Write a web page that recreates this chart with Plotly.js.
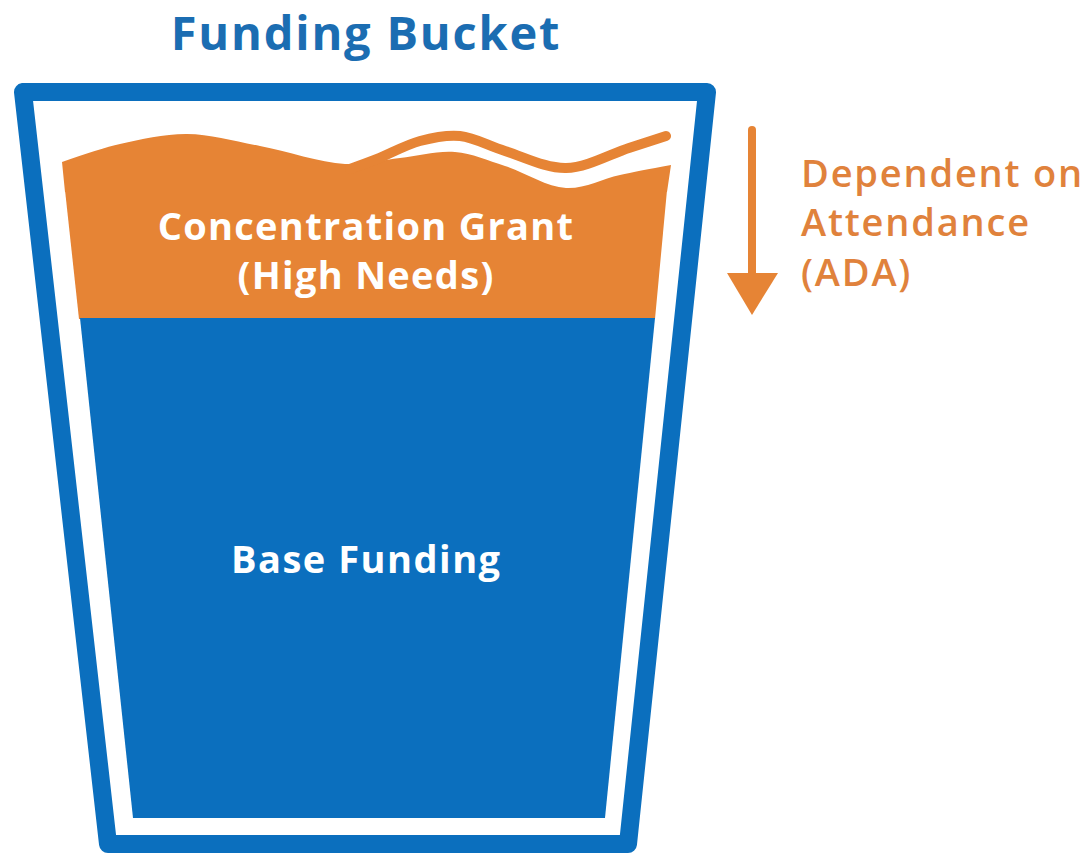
<!DOCTYPE html>
<html>
<head>
<meta charset="utf-8">
<script src="https://cdn.plot.ly/plotly-3.0.1.min.js"></script>
<style>
html,body{margin:0;padding:0;background:#fff;}
#chart{width:1088px;height:855px;}
.js-plotly-plot .scatterlayer .js-line{stroke-linejoin:round !important;stroke-linecap:round !important;}
.js-plotly-plot .gtitle{letter-spacing:1.8px;}
.js-plotly-plot .annotation[data-index="0"] text{letter-spacing:1.3px;}
.js-plotly-plot .annotation[data-index="1"] text{letter-spacing:1.5px;}
.js-plotly-plot .annotation[data-index="2"] text{letter-spacing:1.8px;}
</style>
</head>
<body>
<div id="chart"></div>
<script>
// Diagram geometry (canvas units, y grows downward)
const bucketX = [23, 707, 628, 108, 23];
const bucketY = [92, 92, 844, 844, 92];

const baseX = [80, 655, 605, 133];
const baseY = [318, 318, 818, 818];

const grantBodyX = [65, 667, 655, 79];
const grantBodyY = [190, 190, 319, 319];

const waveFloorX = [65, 667];
const waveFloorY = [192, 192];

const grantWaveX = [62, 120, 187, 260, 345, 400, 455, 505, 566, 620, 671];
const grantWaveY = [162, 144, 134, 146, 164, 158, 152, 166, 188, 175, 165];

const splashX = [350, 377, 420, 460, 505, 566, 629, 666];
const splashY = [169, 159, 141, 136, 151, 168, 148, 136];

const arrowShaftX = [752, 752];
const arrowShaftY = [130, 280];
const arrowHeadX = [727, 778, 752];
const arrowHeadY = [273, 273, 315];

const titleText = 'Funding Bucket';
const grantLabel = 'Concentration Grant<br>(High Needs)';
const baseLabel = 'Base Funding';
const noteLabel = 'Dependent on<br>Attendance<br>(ADA)';

const BLUE = '#0b6fbe';
const ORANGE = '#e68435';
const NOTE = '#e0823c';
const TITLE = '#1b6db2';

const traces = [
  {x: bucketX, y: bucketY, mode: 'lines', line: {color: BLUE, width: 18}, hoverinfo: 'skip'},
  {x: grantBodyX, y: grantBodyY, mode: 'lines', fill: 'toself', fillcolor: ORANGE, line: {width: 0, color: ORANGE}, hoverinfo: 'skip'},
  {x: waveFloorX, y: waveFloorY, mode: 'lines', line: {width: 0, color: ORANGE}, hoverinfo: 'skip'},
  {x: grantWaveX, y: grantWaveY, mode: 'lines', fill: 'tonexty', fillcolor: ORANGE, line: {width: 0, color: ORANGE, shape: 'spline', smoothing: 1}, hoverinfo: 'skip'},
  {x: splashX, y: splashY, mode: 'lines', line: {width: 10, color: ORANGE, shape: 'spline', smoothing: 1}, hoverinfo: 'skip'},
  {x: baseX, y: baseY, mode: 'lines', fill: 'toself', fillcolor: BLUE, line: {width: 0, color: BLUE}, hoverinfo: 'skip'},
  {x: arrowShaftX, y: arrowShaftY, mode: 'lines', line: {width: 8, color: ORANGE}, hoverinfo: 'skip'},
  {x: arrowHeadX, y: arrowHeadY, mode: 'lines', fill: 'toself', fillcolor: ORANGE, line: {width: 0, color: ORANGE}, hoverinfo: 'skip'}
];

const layout = {
  width: 1088, height: 855,
  margin: {l: 0, r: 0, t: 0, b: 0},
  paper_bgcolor: '#ffffff', plot_bgcolor: '#ffffff',
  showlegend: false,
  hovermode: false,
  font: {family: '"Open Sans", sans-serif'},
  title: {text: titleText, x: 366/1088, xanchor: 'center', y: 1 - 34/855, yanchor: 'middle',
          font: {family: '"Open Sans", sans-serif', size: 47, color: TITLE, weight: 700}},
  xaxis: {range: [0, 1088], visible: false, fixedrange: true},
  yaxis: {range: [855, 0], visible: false, fixedrange: true},
  annotations: [
    {x: 366, y: 249, xref: 'x', yref: 'y', text: grantLabel, showarrow: false,
     font: {family: '"Open Sans", sans-serif', size: 38, color: '#ffffff', weight: 700}, align: 'center'},
    {x: 366, y: 558, xref: 'x', yref: 'y', text: baseLabel, showarrow: false,
     font: {family: '"Open Sans", sans-serif', size: 38, color: '#ffffff', weight: 700}, align: 'center'},
    {x: 799, y: 221, xref: 'x', yref: 'y', xanchor: 'left', text: noteLabel, showarrow: false,
     font: {family: '"Open Sans", sans-serif', size: 38, color: NOTE, weight: 600}, align: 'left'}
  ]
};

Plotly.newPlot('chart', traces, layout, {staticPlot: true, displayModeBar: false});
</script>
</body>
</html>
